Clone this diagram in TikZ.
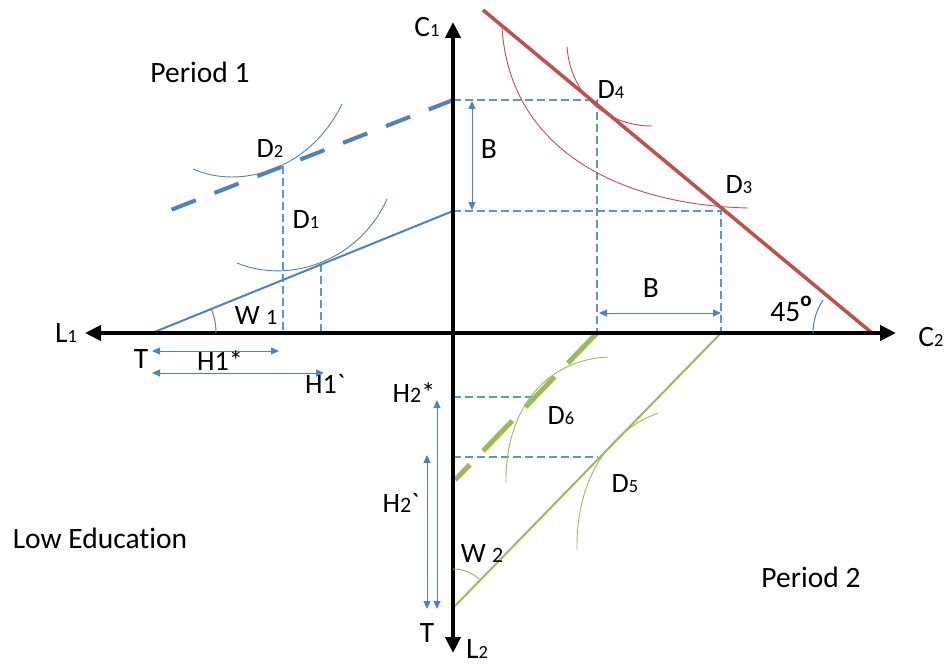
\documentclass[tikz,border=0pt]{standalone}
\usepackage{fontspec}
\setmainfont{Carlito}[Ligatures={TeX,NoCommon}]
\newfontfamily\plainfont{Carlito}[Ligatures={TeXOff,NoCommon}]
\usetikzlibrary{arrows.meta}
\definecolor{oblue}{RGB}{79,129,189}
\definecolor{lblue}{RGB}{91,150,210}
\definecolor{ored}{RGB}{192,80,77}
\definecolor{ogreen}{RGB}{155,187,89}
\newcommand\lowsub[1]{{\fontsize{18.5}{18.5}\selectfont #1}}
\newcommand\midsub[1]{{\fontsize{22}{22}\selectfont #1}}
\newcommand\gravemark{{\plainfont\symbol{96}}}
\begin{document}
\begin{tikzpicture}[x=1pt,y=-1pt,
  axisline/.style={line width=4.5pt,{Triangle[length=16pt,width=15pt]}-{Triangle[length=16pt,width=15pt]}},
  thindash/.style={lblue,line width=1.2pt,dash pattern=on 8pt off 4pt},
  dimarrow/.style={oblue,line width=1pt,{Triangle[length=8pt,width=7pt]}-{Triangle[length=8pt,width=7pt]}},
  lbl/.style={font=\fontsize{29.5}{29.5}\selectfont,inner sep=0pt},
  dlbl/.style={font=\fontsize{28}{28}\selectfont,inner sep=0pt},
  icurve/.style={line width=0.9pt}
]
\useasboundingbox (0,0) rectangle (948,666);
% coordinates
\coordinate (O) at (453,333);
\coordinate (xl) at (85,333);
\coordinate (xr) at (896,333);
\coordinate (yt) at (453,22);
\coordinate (yb) at (453,653);
\coordinate (T1) at (152,333);
\coordinate (A1) at (453,211);
\coordinate (P) at (163,213);
\coordinate (A2) at (453,100);
\coordinate (R1) at (483,10);
\coordinate (R2) at (872,333);
\coordinate (G1) at (453,608);
\coordinate (G2) at (721,333);
\coordinate (G3) at (455,480);
\coordinate (G4) at (597,333);
\coordinate (D2pt) at (283,166);
\coordinate (D2ax) at (283,333);
\coordinate (D1pt) at (321,264);
\coordinate (D1ax) at (321,333);
\coordinate (D4pt) at (597,100);
\coordinate (D4ax) at (597,333);
\coordinate (D3pt) at (721,211);
\coordinate (D3ax) at (721,333);
\coordinate (H2s) at (537,397);
\coordinate (H2sa) at (453,397);
\coordinate (H2p) at (598,457);
\coordinate (H2pa) at (453,457);

% thin dashed guides
\draw[thindash] (D2pt) -- (D2ax);
\draw[thindash] (D1pt) -- (D1ax);
\draw[thindash] (A2) -- (D4pt) -- (D4ax);
\draw[thindash] (A1) -- (D3pt) -- (D3ax);
\draw[thindash] (H2sa) -- (H2s);
\draw[thindash] (H2pa) -- (H2p);

% indifference curves
\draw[oblue,icurve] (193,169) .. controls (240,190) and (310,170) .. (342,104);
\draw[oblue,icurve] (237,263) .. controls (290,285) and (360,260) .. (387,199);
\draw[ored,icurve] (502,28) .. controls (510,150) and (620,205) .. (748,208);
\draw[ored,icurve] (567,47) .. controls (571,98) and (610,126) .. (652,126);
\draw[ogreen,icurve] (608,357) .. controls (545,360) and (505,410) .. (506,483);
\draw[ogreen,icurve] (658,413) .. controls (600,435) and (576,490) .. (577,550);

% budget lines
\draw[oblue,line width=2pt] (T1) -- (A1);
\draw[oblue,line width=4pt,dash pattern=on 26pt off 20pt] (A2) -- (P);
\draw[ored,line width=3.5pt] (R1) -- (R2);
\draw[ogreen,line width=2pt] (G1) -- (G2);
\draw[ogreen,line width=5pt,dash pattern=on 42pt off 19pt] (G4) -- (G3);

% axes
\draw[axisline] (xl) -- (xr);
\draw[axisline] (yb) -- (yt);

% dimension arrows
\coordinate (Bv1) at (472,101); \coordinate (Bv2) at (472,210);
\coordinate (Bh1) at (599,313); \coordinate (Bh2) at (721,313);
\coordinate (H1s1) at (152,351); \coordinate (H1s2) at (279,351);
\coordinate (H1p1) at (152,373); \coordinate (H1p2) at (324,373);
\coordinate (H2s1) at (437,400); \coordinate (H2s2) at (437,609);
\coordinate (H2p1) at (427,455); \coordinate (H2p2) at (427,609);
\draw[dimarrow] (Bv1) -- (Bv2);
\draw[dimarrow] (Bh1) -- (Bh2);
\draw[dimarrow] (H1s1) -- (H1s2);
\draw[dimarrow] (H1p1) -- (H1p2);
\draw[dimarrow] (H2s1) -- (H2s2);
\draw[dimarrow] (H2p1) -- (H2p2);

% angle arcs
\draw[oblue,line width=1pt] (T1) ++(64,0) arc[start angle=0,end angle=-22,radius=64];
\draw[ogreen,line width=1pt] (G1) ++(0,-39) arc[start angle=-90,end angle=-46,radius=39];
\draw[oblue,line width=1pt] (R2) ++(-59,0) arc[start angle=-180,end angle=-146,radius=59];

% labels
\node[lbl] (lp1) at (200,72) {Period 1};
\node[lbl] (lp2) at (811,577) {Period 2};
\node[lbl] (lle) at (100,538) {Low Education};
\node[lbl] (lC1) at (427,27) {C\lowsub{1}};
\node[lbl] (lC2) at (931,337) {C\lowsub{2}};
\node[lbl] (lL1) at (66,333) {L\lowsub{1}};
\node[lbl] (lL2) at (477,649) {L\lowsub{2}};
\node[lbl] (lT1) at (141,359) {T};
\node[lbl] (lT2) at (427,633) {T};
\node[dlbl] (lH1s) at (220,361) {H1*};
\node[dlbl] (lH1p) at (325,384) {H1\gravemark};
\node[dlbl] (lW1) at (256,316) {W \midsub{1}};
\node[dlbl] (lW2) at (482,554) {W \midsub{2}};
\node[dlbl] (lD2) at (270,149) {D\lowsub{2}};
\node[dlbl] (lD1) at (306,220) {D\lowsub{1}};
\node[dlbl] (lD4) at (611,90) {D\lowsub{4}};
\node[dlbl] (lD3) at (739,185) {D\lowsub{3}};
\node[dlbl] (lD6) at (561,416) {D\lowsub{6}};
\node[dlbl] (lD5) at (625,484) {D\lowsub{5}};
\node[lbl] (lBv) at (489,149) {B};
\node[lbl] (lBh) at (651,288) {B};
\node[lbl] (l45) at (791,309) {45\raisebox{0.5em}{\fontsize{21}{21}\selectfont\bfseries o}};
\node[dlbl] (lH2s) at (414,393) {H\midsub{2}*};
\node[dlbl] (lH2p) at (401,503) {H\midsub{2}\gravemark};
\end{tikzpicture}
\end{document}
